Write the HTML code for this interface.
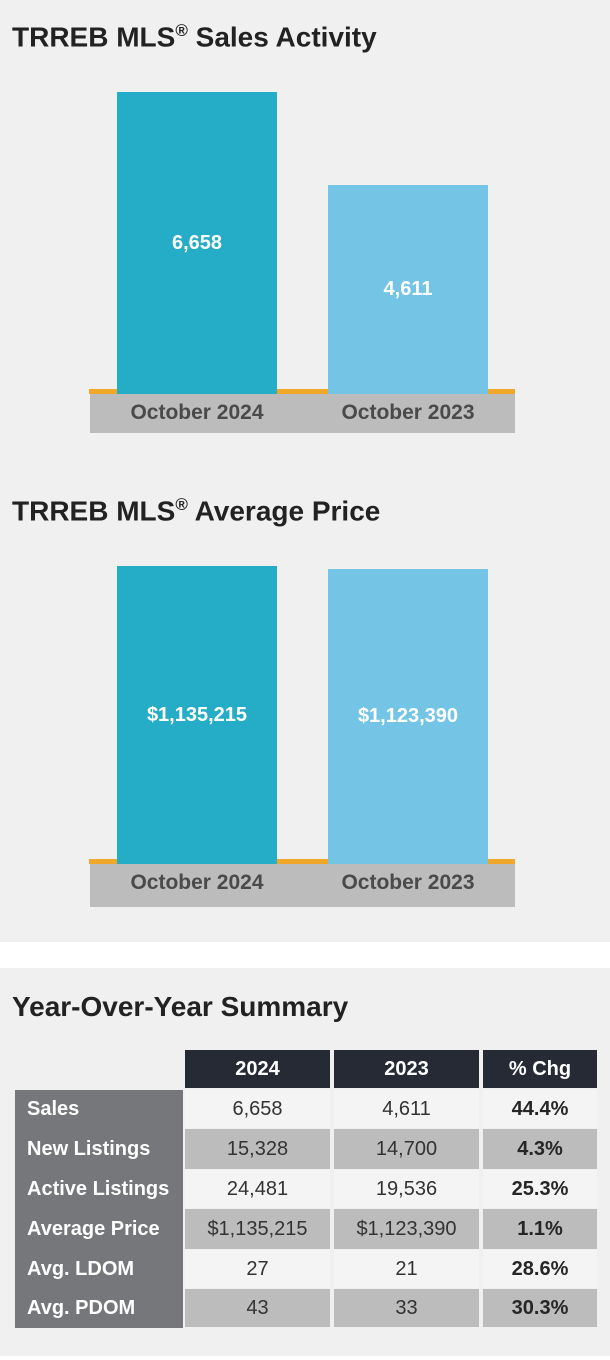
<!DOCTYPE html>
<html><head><meta charset="utf-8">
<style>
body{margin:0;width:610px;height:1360px;background:#fff;font-family:"Liberation Sans",Arial,sans-serif;position:relative;overflow:hidden}
.panel{position:absolute;left:0;width:610px;background:#f0f0f0}
.title{position:absolute;left:12px;font-size:28px;font-weight:bold;color:#222}
.abs{position:absolute}
.cell{position:absolute;display:flex;align-items:center;justify-content:center;font-size:20px;color:#333;box-sizing:border-box}
</style></head><body>
<div class="panel" style="top:0;height:942px"></div>
<div class="panel" style="top:968px;height:388px"></div>
<div class="title" style="top:21px">TRREB MLS<sup style="font-size:17px">®</sup> Sales Activity</div>
<div class="title" style="top:495px">TRREB MLS<sup style="font-size:17px">®</sup> Average Price</div>
<div class="title" style="top:991px">Year-Over-Year Summary</div>
<div id="charts"></div>
<div id="table"></div>
<script>
const categories=["October 2024","October 2023"];
const salesValues=[6658,4611];
const salesLabels=["6,658","4,611"];
const priceValues=[1135215,1123390];
const priceLabels=["$1,135,215","$1,123,390"];
const colors=["#25acc6","#74c5e5"];
function drawChart(name,values,labels,baseY,pxAt,refVal){
  const root=document.getElementById('charts');
  const y=v=>baseY-v/refVal*pxAt;
  const ol=document.createElement('div');ol.className='abs';
  
  
  ol.style.cssText=`left:89px;top:${baseY-5}px;width:426px;height:5px;background:#f0a828`;
  root.appendChild(ol);
  const gb=document.createElement('div');gb.className='abs';
  
  
  gb.style.cssText=`left:90px;top:${baseY}px;width:425px;height:${name==='sales'?39:43}px;background:#bbbcbb`;
  root.appendChild(gb);
  values.forEach((v,i)=>{
    const x=117+i*211;
    const b=document.createElement('div');b.className='abs';
    
    
    const t=y(v);
    b.style.cssText=`left:${x}px;top:${t}px;width:160px;height:${baseY-t}px;background:${colors[i]};display:flex;align-items:center;justify-content:center;color:#fff;font-weight:bold;font-size:20px`;
    b.textContent=labels[i];
    root.appendChild(b);
    const c=document.createElement('div');c.className='abs';
    
    
    c.style.cssText=`left:${x-40}px;top:${baseY+7}px;width:240px;text-align:center;font-size:21px;font-weight:bold;color:#4a4a4a`;
    c.textContent=categories[i];
    root.appendChild(c);
  });
}
drawChart('sales',salesValues,salesLabels,394,302,6658);
drawChart('price',priceValues,priceLabels,864,298,1135215);

const headers=["2024","2023","% Chg"];
const rowLabels=["Sales","New Listings","Active Listings","Average Price","Avg. LDOM","Avg. PDOM"];
const col2024=["6,658","15,328","24,481","$1,135,215","27","43"];
const col2023=["4,611","14,700","19,536","$1,123,390","21","33"];
const colChg=["44.4%","4.3%","25.3%","1.1%","28.6%","30.3%"];
const rowTops=[1090,1129,1170,1209,1250,1289,1328];
const colX=[[185,145],[334,145],[483,114]];
const T=document.getElementById('table');
headers.forEach((h,i)=>{
  const d=document.createElement('div');d.className='cell';
  
  
  d.style.cssText+=`left:${colX[i][0]}px;top:1050px;width:${colX[i][1]}px;height:38px;background:#262a35;color:#fff;font-weight:bold`;
  d.textContent=h;T.appendChild(d);
});
const lc=document.createElement('div');lc.className='abs';


lc.style.cssText='left:15px;top:1090px;width:168px;height:238px;background:#75777a';
T.appendChild(lc);
rowLabels.forEach((r,i)=>{
  const top=rowTops[i],h=rowTops[i+1]-top-1;
  const bg=i%2?'#bbbcbb':'#f4f4f4';
  const l=document.createElement('div');l.className='cell';
  
  
  l.style.cssText+=`left:27px;top:${top}px;width:160px;height:${h}px;justify-content:flex-start;color:#fff;font-weight:bold;white-space:nowrap`;
  l.textContent=r;T.appendChild(l);
  [col2024,col2023,colChg].forEach((col,j)=>{
    const c=document.createElement('div');c.className='cell';
    
    
    c.style.cssText+=`left:${colX[j][0]}px;top:${top}px;width:${colX[j][1]}px;height:${h}px;background:${bg};${j==2?'font-weight:bold;color:#262626':''}`;
    c.textContent=col[i];T.appendChild(c);
  });
});
</script>
</body></html>
